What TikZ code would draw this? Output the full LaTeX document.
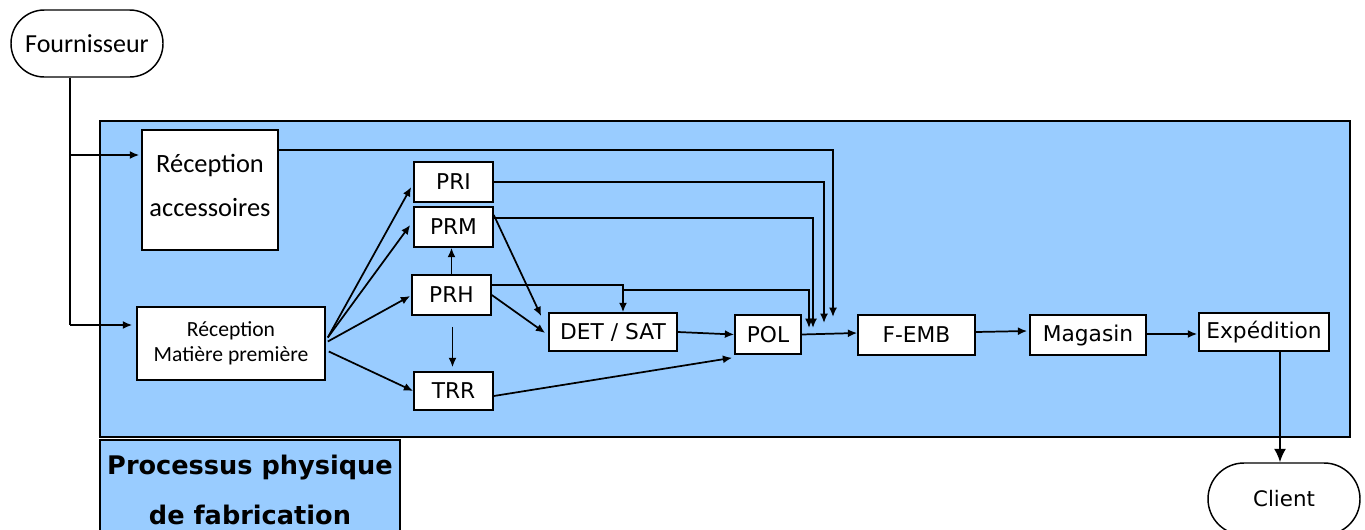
\documentclass[tikz,border=0pt]{standalone}
\usepackage{fontspec}
\setmainfont{Carlito}
\newfontfamily\dv{DejaVu Sans}
\usetikzlibrary{arrows.meta,calc}
\definecolor{bluebg}{RGB}{153,204,255}
\begin{document}
\begin{tikzpicture}[x=0.75pt,y=-0.75pt,
  box/.style={draw, fill=white, line width=1.2pt, inner sep=0pt,
    font=\dv\fontsize{16.3}{18}\selectfont},
  stad/.style={draw, fill=white, line width=1.1pt, inner sep=0pt},
  arr/.style={-{Latex[length=7pt,width=6pt]}, line width=1.3pt},
  bigarr/.style={-{Latex[length=10pt,width=9pt]}, line width=1.6pt},
  ln/.style={line width=1.7pt}]
\useasboundingbox (0,0) rectangle (1365,529);
% main process area
\node[draw, fill=bluebg, line width=1.3pt, inner sep=0pt, minimum width=1250*0.75pt, minimum height=316*0.75pt] (area) at (725,279) {};
\node[draw, fill=bluebg, line width=1.3pt, inner sep=0pt, minimum width=300*0.75pt, minimum height=95*0.75pt] (lab) at (250,487.5) {};
\node[font=\dv\bfseries\fontsize{19.2}{37.5}\selectfont, align=center] (labt) at (250,490) {Processus physique\\de fabrication};
% terminals
\node[stad, rounded corners=25pt, minimum width=152*0.75pt, minimum height=67*0.75pt, font=\fontsize{19.5}{20}\selectfont] (four) at (87,43.5) {Fournisseur};
\node[stad, rounded corners=27pt, minimum width=152*0.75pt, minimum height=72*0.75pt, font=\dv\fontsize{16}{20}\selectfont] (client) at (1284,499) {Client};
% boxes
\node[box, minimum width=136*0.75pt, minimum height=120*0.75pt] (recacc) at (210,190) {};
\node[font=\fontsize{19.8}{33}\selectfont, align=center] (recacct) at (210,185) {Réception\\accessoires};
\node[box, minimum width=188*0.75pt, minimum height=73*0.75pt, align=center, font=\fontsize{16.2}{19}\selectfont] (recmp) at (231,343.5) {Réception\\Matière première};
\node[box, minimum width=79*0.75pt, minimum height=40*0.75pt] (pri) at (453.5,182) {PRI};
\node[box, minimum width=79*0.75pt, minimum height=40*0.75pt] (prm) at (453.5,227) {PRM};
\node[box, minimum width=79*0.75pt, minimum height=40*0.75pt] (prh) at (451.5,295) {PRH};
\node[box, minimum width=79*0.75pt, minimum height=38*0.75pt] (trr) at (453.5,391) {TRR};
\node[box, minimum width=128*0.75pt, minimum height=38*0.75pt] (det) at (613,332) {DET / SAT};
\node[box, minimum width=66*0.75pt, minimum height=39*0.75pt] (pol) at (768,334.5) {POL};
\node[box, minimum width=117*0.75pt, minimum height=40*0.75pt] (femb) at (916.5,335) {F-EMB};
\node[box, minimum width=116*0.75pt, minimum height=40*0.75pt] (mag) at (1088,335) {Magasin};
\node[box, minimum width=130*0.75pt, minimum height=38*0.75pt] (exp) at (1264,332) {Expédition};
% junctions
\coordinate (j1) at (70,155);
\coordinate (j2) at (70,325);
% supplier feed
\draw[ln] (four.south -| j1) -- (j2);
\draw[arr] (j1) -- ($(j1 -| recacc.west)+(-2,0)$);
\draw[arr] (j2) -- ($(j2 -| recmp.west)+(-4,0)$);
% from reception MP
\draw[arr] ($(recmp.east)+(2,-6)$) -- ($(pri.west)+(-2,5)$);
\draw[arr] ($(recmp.east)+(2,-6)$) -- ($(prm.west)+(-3,-2)$);
\draw[arr] ($(recmp.east)+(2,-2)$) -- ($(prh.west)+(-1,1)$);
\draw[arr] ($(recmp.east)+(3,8)$) -- ($(trr.west)+(0,0)$);
% PRH vertical links
\draw[arr] (prh.north) -- (prh.north |- prm.south);
\draw[arr] ($(prh.south)+(1,11)$) -- ($(prh.south |- trr.north)+(1,-4)$);
% long feeders to POL
\draw[arr] (recacc.east |- 0,150) -| (833,317);
\draw[arr] (pri.east) -| (824,323);
\draw[arr] (prm.east |- 0,218) -| (813,328);
\draw[arr] (prh.east |- 0,285) -- (623,285) -- (det.north -| 623,0);
\draw[arr] (prh.east |- 0,285) -- (623,285) |- (809,290) -- (809,328);
% into DET/SAT
\draw[arr] (prm.east |- 0,215) -- ($(det.north west)+(-7,4)$);
\draw[arr] (prh.east) -- ($(det.west)+(-3,1)$);
% main line
\draw[arr] (det.east) -- (pol.west);
\draw[arr] ($(trr.east)+(0,5)$) -- ($(pol.south west)+(-2,3)$);
\draw[arr] (pol.east) -- ($(femb.west)+(0,-2)$);
\draw[arr] ($(femb.east)+(0,-3)$) -- ($(mag.west)+(-2,-4)$);
\draw[arr] ($(mag.east)+(0,-1)$) -- ($(exp.west)+(-1,2)$);
\draw[bigarr] (exp.south -| 1280,0) -- (client.north -| 1280,0);
\end{tikzpicture}
\end{document}
